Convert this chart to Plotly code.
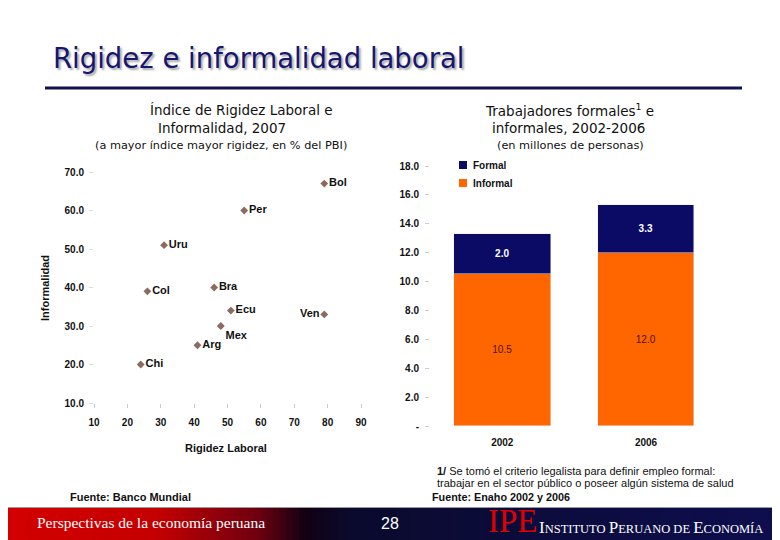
import plotly.graph_objects as go

# page body has an 8px margin, so the figure sits at (8, 8)
OFF = 8
W, H = 772, 532

# --- data ---
paises = ["Bol", "Per", "Uru", "Col", "Bra", "Ecu", "Ven", "Mex", "Arg", "Chi"]
rigidez = [79, 55, 31, 26, 46, 51, 79, 48, 41, 24]
informalidad = [67, 60, 51, 39, 40, 34, 33, 30, 25, 20]
label_pos = ["middle right", "middle right", "middle right", "middle right", "middle right",
             "middle right", "middle left", "bottom right", "middle right", "middle right"]

anios = ["2002", "2006"]
informal = [10.5, 12.0]
formal = [2.8, 3.3]
informal_txt = ["10.5", "12.0"]
formal_txt = ["2.0", "3.3"]

scatter_xticks = [10, 20, 30, 40, 50, 60, 70, 80, 90]
scatter_yticks = [10, 20, 30, 40, 50, 60, 70]
bar_yticks = [0, 2, 4, 6, 8, 10, 12, 14, 16, 18]
bar_yticktext = ["-", "2.0", "4.0", "6.0", "8.0", "10.0", "12.0", "14.0", "16.0", "18.0"]

NAVY = "#0b0b66"
ORANGE = "#ff6600"
SANS = "Liberation Sans, Arial, sans-serif"
VERDANA = "DejaVu Sans, Verdana, sans-serif"
SERIF = "Liberation Serif, Times New Roman, serif"


def px(x):
    return (x - OFF) / W


def py(y):
    return 1 - (y - OFF) / H


fig = go.Figure()

# scatter (left)
fig.add_trace(go.Scatter(
    x=rigidez, y=informalidad, text=paises, mode="markers+text",
    textposition=label_pos, showlegend=False,
    marker=dict(symbol="diamond", size=6, color="#8c6a64"),
    textfont=dict(family=SANS, size=11, color="#111111", weight="bold"),
    xaxis="x", yaxis="y", cliponaxis=False,
))

# stacked bars (right)
fig.add_trace(go.Bar(
    x=anios, y=informal, name="Informal", marker_color=ORANGE, width=0.674,
    text=informal_txt, texttemplate="%{text}", textposition="inside", insidetextanchor="middle",
    textfont=dict(family=SANS, size=10, color="#4a1200"), xaxis="x2", yaxis="y2",
    showlegend=False,
))
fig.add_trace(go.Bar(
    x=anios, y=formal, name="Formal", marker_color=NAVY, width=0.674,
    text=formal_txt, texttemplate="%{text}", textposition="inside", insidetextanchor="middle",
    textfont=dict(family=SANS, size=10, color="white", weight="bold"), xaxis="x2", yaxis="y2",
    showlegend=False,
))

tickfont = dict(family=SANS, size=10, color="#111111", weight="bold")

fig.update_layout(
    width=W, height=H, margin=dict(l=0, r=0, t=0, b=0, autoexpand=False),
    paper_bgcolor="white", plot_bgcolor="white",
    barmode="stack", bargap=0, showlegend=False,
    uniformtext=dict(minsize=8, mode="show"),
    xaxis=dict(domain=[px(94), px(361)], range=[10, 90], tickvals=scatter_xticks,
               showgrid=False, zeroline=False, showline=False,
               ticks="outside", ticklen=4, tickcolor="#cccccc", ticklabelstandoff=6,
               tickfont=tickfont, anchor="y"),
    yaxis=dict(domain=[py(403), py(172)], range=[10, 70], tickvals=scatter_yticks,
               tickformat=".1f", showgrid=False, zeroline=False, showline=False,
               ticks="outside", ticklen=4, tickcolor="#dddddd", ticklabelstandoff=3,
               tickfont=tickfont, anchor="x"),
    xaxis2=dict(domain=[px(430), px(761)], range=[-0.503, 1.8], type="category",
                showgrid=False, zeroline=False, showline=False, ticks="",
                ticklabelstandoff=9, tickfont=tickfont, anchor="y2"),
    yaxis2=dict(domain=[py(426), py(166)], range=[0, 18], tickvals=bar_yticks,
                ticktext=bar_yticktext, showgrid=False, zeroline=False, showline=False,
                ticks="outside", ticklen=4, tickcolor="#cccccc", ticklabelstandoff=4,
                tickfont=tickfont, anchor="x2"),
)

shapes = []
# rule under the title
shapes.append(dict(type="line", xref="paper", yref="paper", x0=px(45), x1=px(742),
                   y0=py(88), y1=py(88), line=dict(color="#12124e", width=3)))

# legend squares (drawn by hand, small like the original)
legend_items = [("Formal", NAVY, 165), ("Informal", ORANGE, 183)]
for name, color, yy in legend_items:
    shapes.append(dict(type="rect", xref="paper", yref="paper",
                       x0=px(459), x1=px(467), y0=py(yy + 4), y1=py(yy - 4),
                       fillcolor=color, line=dict(width=0)))

# footer band gradient
stops = [(0.0, (212, 0, 0)), (0.2, (196, 0, 0)), (0.33, (110, 0, 16)),
         (0.39, (18, 0, 18)), (0.45, (10, 10, 46)), (1.0, (14, 14, 80))]


def grad(t):
    for (t0, c0), (t1, c1) in zip(stops[:-1], stops[1:]):
        if t0 <= t <= t1:
            f = (t - t0) / (t1 - t0)
            return "rgb(%d,%d,%d)" % tuple(round(a + (b - a) * f) for a, b in zip(c0, c1))
    return "rgb(%d,%d,%d)" % stops[-1][1]


n = 120
for i in range(n):
    x0 = 780 * i / n
    x1 = 780 * (i + 1) / n + 1
    shapes.append(dict(type="rect", xref="paper", yref="paper",
                       x0=px(x0), x1=px(x1), y0=py(545), y1=py(508),
                       fillcolor=grad((i + 0.5) / n), line=dict(width=0), layer="below"))
shapes.append(dict(type="line", xref="paper", yref="paper", x0=px(0), x1=px(780),
                   y0=py(507.5), y1=py(507.5), line=dict(color="#9a9a9a", width=1)))
fig.update_layout(shapes=shapes)

ann = []


def note(x, y, text, size, color="#111111", family=SANS, xanchor="center", weight="normal",
         textangle=0):
    ann.append(dict(x=px(x), y=py(y), xref="paper", yref="paper", text=text, showarrow=False,
                    xanchor=xanchor, yanchor="middle", textangle=textangle,
                    font=dict(family=family, size=size, color=color, weight=weight)))


# title
ann.append(dict(x=px(51), y=py(58), xref="paper", yref="paper", showarrow=False,
                text="Rigidez e informalidad laboral", xanchor="left", yanchor="middle",
                font=dict(family=VERDANA, size=27.5, color="#161670",
                          shadow="2px 2px 2px #a8a8a8")))

# chart headers
note(241, 110, "Índice de Rigidez Laboral e", 13.5, family=VERDANA)
note(222, 128, "Informalidad, 2007", 13.5, family=VERDANA)
note(221, 145, "(a mayor índice mayor rigidez, en % del PBI)", 11.3, family=VERDANA)
note(569, 110, "Trabajadores formales<sup>1</sup> e", 13.5, family=VERDANA)
note(568, 128, "informales, 2002-2006", 13.5, family=VERDANA)
note(570, 145, "(en millones de personas)", 11.3, family=VERDANA)

# legend text
for name, color, yy in legend_items:
    note(471, yy, name, 10, xanchor="left", weight="bold")

# axis titles
note(226, 448, "Rigidez Laboral", 11, weight="bold")
note(45, 288, "Informalidad", 11, weight="bold", textangle=-90)

# notes and sources
note(435, 471, "<b>1/</b> Se tomó el criterio legalista para definir empleo formal:", 11,
     xanchor="left")
note(435, 483, "trabajar en el sector público o poseer algún sistema de salud", 11,
     xanchor="left")
note(430, 497, "Fuente: Enaho 2002 y 2006", 10.8, xanchor="left", weight="bold")
note(68, 497, "Fuente: Banco Mundial", 11, xanchor="left", weight="bold")

# footer band text
note(35, 522, "Perspectivas de la economía peruana", 15.5, color="white", family=SERIF,
     xanchor="left")
note(390, 523, "28", 16, color="white", family=SANS)
note(486, 521, "IPE", 33, color="#e00000", family=SERIF, xanchor="left")
note(537, 527,
     "<span style='font-size:17px'>I</span>NSTITUTO <span style='font-size:17px'>P</span>ERUANO DE "
     "<span style='font-size:17px'>E</span>CONOMÍA",
     12.5, color="white", family=SERIF, xanchor="left")

fig.update_layout(annotations=ann)

fig.write_html("out.html")
